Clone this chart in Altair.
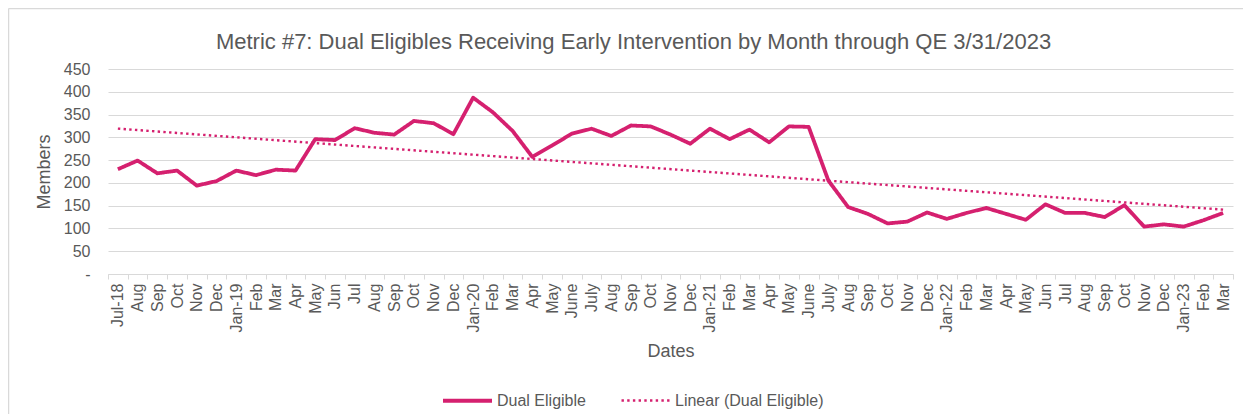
import json
import altair as alt
import pandas as pd

month_labels = ["Jul-18", "Aug", "Sep", "Oct", "Nov", "Dec",
                "Jan-19", "Feb", "Mar", "Apr", "May", "Jun", "Jul", "Aug", "Sep", "Oct", "Nov", "Dec",
                "Jan-20", "Feb", "Mar", "Apr", "May", "June", "July", "Aug", "Sep", "Oct", "Nov", "Dec",
                "Jan-21", "Feb", "Mar", "Apr", "May", "June", "July", "Aug", "Sep", "Oct", "Nov", "Dec",
                "Jan-22", "Feb", "Mar", "Apr", "May", "Jun", "Jul", "Aug", "Sep", "Oct", "Nov", "Dec",
                "Jan-23", "Feb", "Mar"]
members = [230, 249, 221, 227, 194, 204, 227, 217, 229, 227,
           296, 294, 320, 310, 306, 336, 331, 307, 387, 355,
           314, 257, 282, 308, 319, 303, 326, 324, 306, 286,
           319, 296, 317, 289, 324, 323, 205, 147, 132, 111,
           115, 135, 121, 134, 145, 132, 119, 153, 134, 134,
           125, 151, 104, 109, 104, 118, 134]
series_names = ["Dual Eligible", "Linear (Dual Eligible)"]
y_ticks = [0, 50, 100, 150, 200, 250, 300, 350, 400, 450]

title_text = "Metric #7: Dual Eligibles Receiving Early Intervention by Month through QE 3/31/2023"

COLOR = "#D5206F"
GRAY = "#595959"
LINE_GRAY = "#D9D9D9"
FONT = "Liberation Sans"

df = pd.DataFrame({"idx": list(range(len(members))), "members": members})
df["series"] = series_names[0]

label_expr = json.dumps(month_labels) + "[datum.value]"

x_enc = alt.X(
    "idx:O",
    scale=alt.Scale(type="band", paddingInner=0, paddingOuter=0),
    axis=alt.Axis(
        title="Dates", labelExpr=label_expr, labelAngle=270, tickBand="extent",
        grid=False, domainColor=LINE_GRAY, tickColor=LINE_GRAY, tickSize=5,
        labelPadding=4, titlePadding=11, labelOverlap=False,
    ),
)
y_enc = alt.Y(
    "members:Q",
    scale=alt.Scale(domain=[0, 450]),
    axis=alt.Axis(
        title="Members", values=y_ticks,
        labelExpr="datum.value == 0 ? '-' : datum.label",
        domain=False, ticks=False, labelPadding=18, titlePadding=10,
        grid=True, gridColor=LINE_GRAY, gridWidth=1,
    ),
)
color_enc = alt.Color("series:N", scale=alt.Scale(domain=series_names, range=[COLOR, COLOR]),
                      legend=alt.Legend(title=None))
dash_enc = alt.StrokeDash("series:N", scale=alt.Scale(domain=series_names, range=[[1, 0], [2.4, 3.3]]),
                          legend=alt.Legend(title=None))
width_enc = alt.StrokeWidth("series:N", scale=alt.Scale(domain=series_names, range=[3.8, 2.4]),
                            legend=alt.Legend(title=None))

base = alt.Chart(df)

line = base.mark_line(strokeJoin="round").encode(
    x=x_enc, y=y_enc, color=color_enc, strokeDash=dash_enc, strokeWidth=width_enc
)

trend = base.transform_regression("idx", "members", method="linear").transform_calculate(
    series="'Linear (Dual Eligible)'"
).mark_line().encode(
    x=x_enc, y=y_enc, color=color_enc, strokeDash=dash_enc, strokeWidth=width_enc
)

frame_df = pd.DataFrame({"a": [0]})
frame_left = alt.Chart(frame_df).mark_rule(color=LINE_GRAY, strokeWidth=1.5).encode(
    x=alt.value(-99.5), y=alt.value(-60.5), y2=alt.value(345)
)
frame_top = alt.Chart(frame_df).mark_rule(color=LINE_GRAY, strokeWidth=1.5).encode(
    x=alt.value(-99.5), x2=alt.value(1135), y=alt.value(-60.5)
)

chart = alt.layer(frame_left, frame_top, trend, line).properties(
    width=1125,
    height=205,
    autosize=alt.AutoSizeParams(type="none"),
    padding={"left": 100, "top": 61, "right": 10, "bottom": 140},
    title=alt.TitleParams(
        title_text, fontSize=22, color=GRAY, font=FONT, fontWeight="normal",
        anchor="middle", frame="group", dx=-37, offset=-63.5, baseline="alphabetic",
    ),
).configure_view(stroke=None).configure_axis(
    labelFont=FONT, titleFont=FONT, labelFontSize=16, titleFontSize=18,
    labelColor=GRAY, titleColor=GRAY, titleFontWeight="normal",
).configure_legend(
    orient="none", legendX=333, legendY=305, direction="horizontal",
    symbolType="stroke", symbolSize=2401, labelFontSize=16, labelColor=GRAY,
    labelFont=FONT, columnPadding=30, labelOffset=3, padding=0,
)

chart.save("out.html", embed_options={"renderer": "svg", "actions": False})
